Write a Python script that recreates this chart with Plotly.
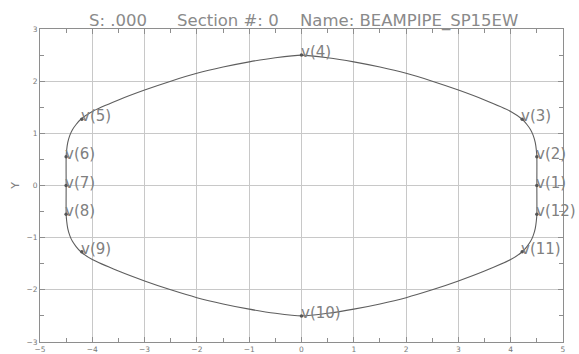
import plotly.graph_objects as go

# Vertex points (labelled)
vertex_labels = ["v(1)", "v(2)", "v(3)", "v(4)", "v(5)", "v(6)",
                 "v(7)", "v(8)", "v(9)", "v(10)", "v(11)", "v(12)"]
vertex_x = [4.5, 4.5, 4.22, 0.0, -4.2, -4.5, -4.5, -4.5, -4.2, 0.0, 4.22, 4.5]
vertex_y = [0.0, 0.55, 1.27, 2.5, 1.27, 0.55, 0.0, -0.55, -1.27, -2.5, -1.27, -0.55]

# Outline of the beam pipe section
outline_x = [4.5, 4.5, 4.49, 4.47, 4.43, 4.38, 4.31, 4.22, 4.0, 3.5, 3.0, 2.5, 2.0, 1.5, 1.0, 0.5, 0.0,
             -0.5, -1.0, -1.5, -2.0, -2.5, -3.0, -3.5, -4.0, -4.22, -4.31, -4.38, -4.43, -4.47, -4.49, -4.5,
             -4.5, -4.5, -4.49, -4.47, -4.43, -4.38, -4.31, -4.22, -4.0, -3.5, -3.0, -2.5, -2.0, -1.5, -1.0,
             -0.5, 0.0, 0.5, 1.0, 1.5, 2.0, 2.5, 3.0, 3.5, 4.0, 4.22, 4.31, 4.38, 4.43, 4.47, 4.49, 4.5, 4.5]
outline_y = [0.0, 0.55, 0.68, 0.82, 0.96, 1.07, 1.17, 1.27, 1.42, 1.64, 1.83, 2.0, 2.15, 2.27, 2.37, 2.45, 2.5,
             2.45, 2.37, 2.27, 2.15, 2.0, 1.83, 1.64, 1.42, 1.27, 1.17, 1.07, 0.96, 0.82, 0.68, 0.55,
             0.0, -0.55, -0.68, -0.82, -0.96, -1.07, -1.17, -1.27, -1.42, -1.64, -1.83, -2.0, -2.15, -2.27, -2.37,
             -2.45, -2.5, -2.45, -2.37, -2.27, -2.15, -2.0, -1.83, -1.64, -1.42, -1.27, -1.17, -1.07, -0.96,
             -0.82, -0.68, -0.55, 0.0]

x_ticks = [-5, -4, -3, -2, -1, 0, 1, 2, 3, 4, 5]
y_ticks = [-3, -2, -1, 0, 1, 2, 3]

title_parts = ["S: .000", "Section #: 0", "Name: BEAMPIPE_SP15EW"]
title_pos = [0.090, 0.258, 0.493]

GRAY_TEXT = "#808080"

fig = go.Figure()
fig.add_trace(go.Scatter(
    x=outline_x, y=outline_y, mode="lines",
    line=dict(color="#5e5e5e", width=1.1, shape="spline", smoothing=0.6),
    hoverinfo="skip", showlegend=False))
fig.add_trace(go.Scatter(
    x=vertex_x, y=vertex_y, mode="markers",
    marker=dict(color="#555555", size=3.5),
    hoverinfo="skip", cliponaxis=False, showlegend=False))

annotations = []
for lx, ly, lt in zip(vertex_x, vertex_y, vertex_labels):
    annotations.append(dict(
        x=lx, y=ly, xref="x", yref="y", text=lt, showarrow=False,
        xanchor="left", yanchor="middle", xshift=-3, yshift=3,
        font=dict(family="DejaVu Sans", size=15, color=GRAY_TEXT)))
for tx, tt in zip(title_pos, title_parts):
    annotations.append(dict(
        x=tx, y=1.027, xref="paper", yref="paper", text=tt, showarrow=False,
        xanchor="left", yanchor="middle",
        font=dict(family="DejaVu Sans", size=16.5, color="#8a8a8a")))

axis_common = dict(
    showgrid=True, gridcolor="#c8c8c8", gridwidth=1,
    showline=True, linecolor="#8e8e8e", linewidth=1, mirror="ticks",
    ticks="inside", ticklen=5, tickcolor="#8e8e8e", tickwidth=1,
    minor=dict(ticks="inside", ticklen=4, tickcolor="#8e8e8e", dtick=0.5, showgrid=False),
    zeroline=False, automargin=False,
    tickfont=dict(family="DejaVu Sans", size=7.5, color="#777777"),
)

fig.update_xaxes(range=[-5, 5], tickvals=x_ticks, **axis_common)
fig.update_yaxes(range=[-3, 3], tickvals=y_ticks,
                 title=dict(text="Y", font=dict(family="DejaVu Sans", size=11, color="#808080"), standoff=4),
                 **axis_common)

fig.update_layout(
    width=579, height=354,
    margin=dict(l=40, r=16, t=29, b=12),
    paper_bgcolor="white", plot_bgcolor="white",
    hovermode=False,
    annotations=annotations,
)

fig.write_html("out.html",
               config={"displayModeBar": False, "staticPlot": True},
               post_script="document.body.style.margin='0';document.body.style.overflow='hidden';")
